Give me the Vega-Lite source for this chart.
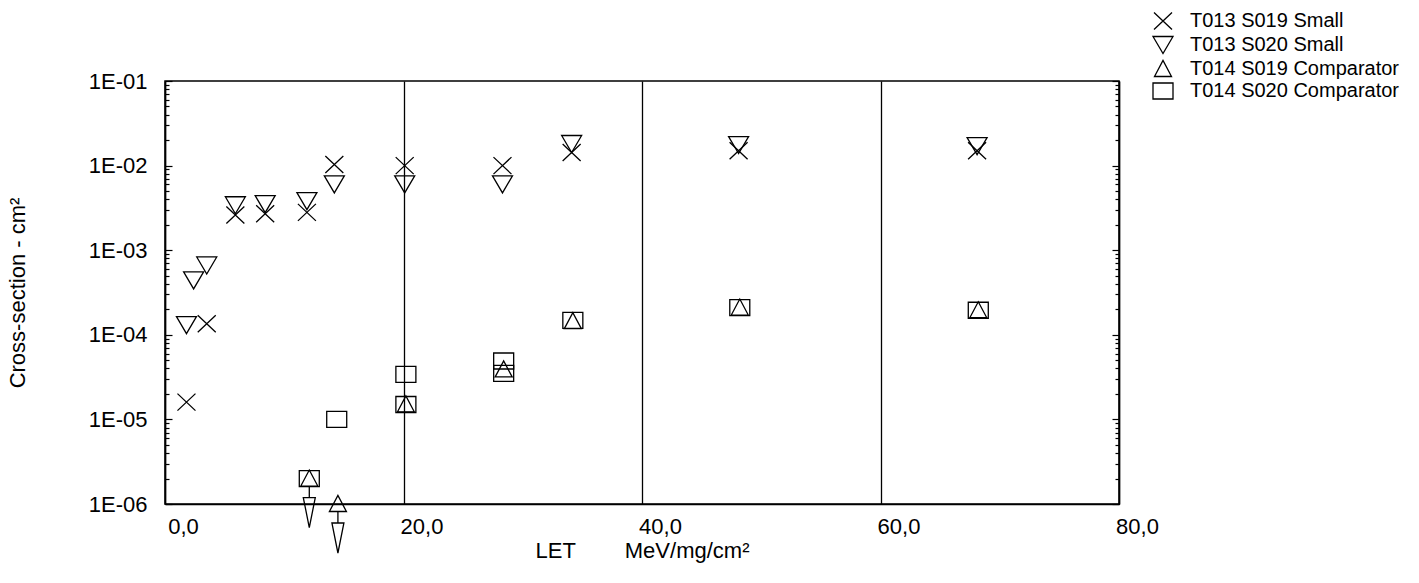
{
  "$schema": "https://vega.github.io/schema/vega-lite/v6.json",
  "width": 954,
  "height": 423,
  "autosize": {"type": "none"},
  "padding": {"left": 165, "top": 81, "right": 300, "bottom": 79},
  "background": "white",
  "config": {
    "font": "Liberation Sans",
    "view": {"stroke": "black", "strokeWidth": 1.5},
    "axis": {
      "domainColor": "black",
      "domainWidth": 1.5,
      "tickColor": "black",
      "tickWidth": 1.2,
      "labelColor": "black",
      "titleColor": "black",
      "labelFont": "Liberation Sans",
      "titleFont": "Liberation Sans",
      "titleFontWeight": "normal",
      "labelOverlap": false,
      "labelBound": false,
      "labelFlush": false
    },
    "legend": {
      "labelFont": "Liberation Sans",
      "labelFontSize": 20,
      "labelColor": "black",
      "labelLimit": 0,
      "symbolSize": 400,
      "symbolStrokeWidth": 1.3,
      "symbolStrokeColor": "black",
      "symbolFillColor": "transparent"
    }
  },
  "data": {
    "values": [
      {"series": "T013 S019 Small", "LET": 1.8, "sigma": 1.6e-5, "limit": false},
      {"series": "T013 S019 Small", "LET": 3.5, "sigma": 1.35e-4, "limit": false},
      {"series": "T013 S019 Small", "LET": 5.9, "sigma": 2.6e-3, "limit": false},
      {"series": "T013 S019 Small", "LET": 8.4, "sigma": 2.7e-3, "limit": false},
      {"series": "T013 S019 Small", "LET": 11.9, "sigma": 2.8e-3, "limit": false},
      {"series": "T013 S019 Small", "LET": 14.2, "sigma": 1.03e-2, "limit": false},
      {"series": "T013 S019 Small", "LET": 20.1, "sigma": 1.0e-2, "limit": false},
      {"series": "T013 S019 Small", "LET": 28.3, "sigma": 1.0e-2, "limit": false},
      {"series": "T013 S019 Small", "LET": 34.1, "sigma": 1.43e-2, "limit": false},
      {"series": "T013 S019 Small", "LET": 48.1, "sigma": 1.5e-2, "limit": false},
      {"series": "T013 S019 Small", "LET": 68.1, "sigma": 1.5e-2, "limit": false},
      {"series": "T013 S020 Small", "LET": 1.8, "sigma": 1.3e-4, "limit": false},
      {"series": "T013 S020 Small", "LET": 2.4, "sigma": 4.4e-4, "limit": false},
      {"series": "T013 S020 Small", "LET": 3.5, "sigma": 6.6e-4, "limit": false},
      {"series": "T013 S020 Small", "LET": 5.9, "sigma": 3.4e-3, "limit": false},
      {"series": "T013 S020 Small", "LET": 8.4, "sigma": 3.5e-3, "limit": false},
      {"series": "T013 S020 Small", "LET": 11.9, "sigma": 3.8e-3, "limit": false},
      {"series": "T013 S020 Small", "LET": 14.2, "sigma": 6.0e-3, "limit": false},
      {"series": "T013 S020 Small", "LET": 20.1, "sigma": 6.0e-3, "limit": false},
      {"series": "T013 S020 Small", "LET": 28.3, "sigma": 6.0e-3, "limit": false},
      {"series": "T013 S020 Small", "LET": 34.1, "sigma": 1.8e-2, "limit": false},
      {"series": "T013 S020 Small", "LET": 48.1, "sigma": 1.75e-2, "limit": false},
      {"series": "T013 S020 Small", "LET": 68.1, "sigma": 1.7e-2, "limit": false},
      {"series": "T014 S019 Comparator", "LET": 12.1, "sigma": 2e-6, "limit": true},
      {"series": "T014 S019 Comparator", "LET": 14.5, "sigma": 1e-6, "limit": true},
      {"series": "T014 S019 Comparator", "LET": 20.2, "sigma": 1.5e-5, "limit": false},
      {"series": "T014 S019 Comparator", "LET": 28.4, "sigma": 3.9e-5, "limit": false},
      {"series": "T014 S019 Comparator", "LET": 34.2, "sigma": 1.45e-4, "limit": false},
      {"series": "T014 S019 Comparator", "LET": 48.2, "sigma": 2.1e-4, "limit": false},
      {"series": "T014 S019 Comparator", "LET": 68.2, "sigma": 1.95e-4, "limit": false},
      {"series": "T014 S020 Comparator", "LET": 12.1, "sigma": 2e-6, "limit": false},
      {"series": "T014 S020 Comparator", "LET": 14.4, "sigma": 1e-5, "limit": false},
      {"series": "T014 S020 Comparator", "LET": 20.2, "sigma": 3.4e-5, "limit": false},
      {"series": "T014 S020 Comparator", "LET": 20.2, "sigma": 1.5e-5, "limit": false},
      {"series": "T014 S020 Comparator", "LET": 28.4, "sigma": 4.9e-5, "limit": false},
      {"series": "T014 S020 Comparator", "LET": 28.4, "sigma": 3.5e-5, "limit": false},
      {"series": "T014 S020 Comparator", "LET": 34.2, "sigma": 1.48e-4, "limit": false},
      {"series": "T014 S020 Comparator", "LET": 48.2, "sigma": 2.1e-4, "limit": false},
      {"series": "T014 S020 Comparator", "LET": 68.2, "sigma": 1.95e-4, "limit": false}
    ]
  },
  "layer": [
    {
      "mark": {"type": "point", "filled": false, "color": "black", "strokeWidth": 1.3, "size": 400, "opacity": 1, "clip": false},
      "encoding": {
        "x": {
          "field": "LET",
          "type": "quantitative",
          "scale": {"domain": [0, 80], "nice": false, "zero": false},
          "axis": {
            "values": [0, 20, 40, 60, 80],
            "labelExpr": "replace(format(datum.value, '.1f'), '.', ',')",
            "ticks": false,
            "grid": true,
            "gridColor": "black",
            "gridWidth": 1.3,
            "gridOpacity": 1,
            "labelFontSize": 22,
            "labelPadding": 12,
            "labelOffset": 18,
            "title": "LET\u00a0\u00a0\u00a0\u00a0\u00a0\u00a0\u00a0\u00a0MeV/mg/cm²",
            "titleFontSize": 22,
            "titlePadding": 3
          }
        },
        "y": {
          "field": "sigma",
          "type": "quantitative",
          "scale": {"type": "log", "domain": [1e-6, 0.1], "nice": false},
          "axis": {
            "grid": false,
            "values": [1e-6, 2e-6, 3e-6, 4e-6, 5e-6, 6e-6, 7e-6, 8e-6, 9e-6, 1e-5, 2e-5, 3e-5, 4e-5, 5e-5, 6e-5, 7e-5, 8e-5, 9e-5, 1e-4, 2e-4, 3e-4, 4e-4, 5e-4, 6e-4, 7e-4, 8e-4, 9e-4, 1e-3, 2e-3, 3e-3, 4e-3, 5e-3, 6e-3, 7e-3, 8e-3, 9e-3, 1e-2, 2e-2, 3e-2, 4e-2, 5e-2, 6e-2, 7e-2, 8e-2, 9e-2, 1e-1],
            "labelExpr": "abs(log(datum.value) / LN10 - round(log(datum.value) / LN10)) < 0.001 ? '1E-0' + (-round(log(datum.value) / LN10)) : ''",
            "tickSize": {"condition": {"test": "abs(log(datum.value) / LN10 - round(log(datum.value) / LN10)) < 0.001", "value": -7}, "value": -4},
            "labelFontSize": 22,
            "labelPadding": 25,
            "title": "Cross-section - cm²",
            "titleFontSize": 22,
            "titlePadding": 59
          }
        },
        "shape": {
          "field": "series",
          "type": "nominal",
          "scale": {
            "domain": ["T013 S019 Small", "T013 S020 Small", "T014 S019 Comparator", "T014 S020 Comparator"],
            "range": [
              "M-0.9,-0.85L0.9,0.85M-0.9,0.85L0.9,-0.85",
              "M-1,-0.85L1,-0.85L0,0.85Z",
              "M-0.85,0.75L0.85,0.75L0,-0.85Z",
              "M-1,-0.8L1,-0.8L1,0.8L-1,0.8Z"
            ]
          },
          "legend": {
            "title": null,
            "orient": "none",
            "legendX": 987,
            "legendY": -71,
            "padding": 0,
            "rowPadding": 0,
            "labelOffset": 16
          }
        }
      }
    },
    {
      "transform": [{"filter": "datum.limit"}],
      "mark": {
        "type": "point",
        "filled": false,
        "color": "black",
        "strokeWidth": 1.3,
        "size": 2500,
        "opacity": 1,
        "shape": "M0,0.3L0,0.76M-0.24,0.76L0.24,0.76L0,1.96Z",
        "clip": false
      },
      "encoding": {
        "x": {"field": "LET", "type": "quantitative", "scale": {"domain": [0, 80], "nice": false, "zero": false}},
        "y": {
          "field": "sigma",
          "type": "quantitative",
          "scale": {"type": "log", "domain": [1e-6, 0.1], "nice": false},
          "axis": {
            "orient": "right",
            "grid": false,
            "values": [1e-6, 2e-6, 3e-6, 4e-6, 5e-6, 6e-6, 7e-6, 8e-6, 9e-6, 1e-5, 2e-5, 3e-5, 4e-5, 5e-5, 6e-5, 7e-5, 8e-5, 9e-5, 1e-4, 2e-4, 3e-4, 4e-4, 5e-4, 6e-4, 7e-4, 8e-4, 9e-4, 1e-3, 2e-3, 3e-3, 4e-3, 5e-3, 6e-3, 7e-3, 8e-3, 9e-3, 1e-2, 2e-2, 3e-2, 4e-2, 5e-2, 6e-2, 7e-2, 8e-2, 9e-2, 1e-1],
            "labels": false,
            "title": null,
            "tickSize": {"condition": {"test": "abs(log(datum.value) / LN10 - round(log(datum.value) / LN10)) < 0.001", "value": -7}, "value": -4}
          }
        }
      }
    }
  ],
  "resolve": {"axis": {"y": "independent"}}
}
